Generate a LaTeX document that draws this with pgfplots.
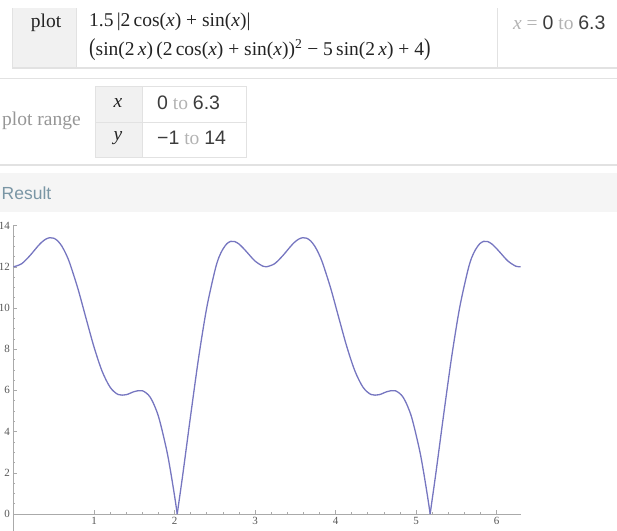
\documentclass[border=0pt]{standalone}
\usepackage{fontspec}
\setmainfont{Liberation Serif}
\newfontfamily\sansf{Liberation Sans}
\usepackage{graphicx}
\usepackage{pgfplots}
\pgfplotsset{compat=1.18}
\definecolor{curve}{RGB}{118,118,192}
\definecolor{cellgray}{RGB}{241,241,241}
\definecolor{linegray}{RGB}{226,226,226}
\definecolor{lightt}{RGB}{178,178,178}
\definecolor{midt}{RGB}{150,150,150}
\definecolor{darkt}{RGB}{35,35,35}
\definecolor{numt}{RGB}{60,60,60}
\definecolor{restxt}{RGB}{122,150,165}
\definecolor{band}{RGB}{245,245,245}
\definecolor{axisgray}{RGB}{170,170,170}
\definecolor{labgray}{RGB}{85,85,85}
\pgfplotsset{mycurve/.style={draw=curve, no markers, line width=1.3pt, smooth, line join=round}}
\newcommand{\fs}{\fontsize{19.5}{23}\selectfont}
\newcommand{\xx}{\textit{x}}
\newcommand{\tto}{{\color{lightt}\ to\ }}
\begin{document}
\begin{tikzpicture}
\useasboundingbox (0pt,0pt) rectangle (617pt,-530pt);
\begin{scope}[x=1pt,y=-1pt]
% first block
\fill[cellgray] (12,8) rectangle (76,68);
\draw[linegray] (12,8) -- (12,68);
\draw[linegray] (76,8) -- (76,68);
\draw[linegray] (497,8) -- (497,68);
\draw[linegray, line width=1.5pt] (12,68) -- (617,68);
\node[font=\fs, text=darkt, inner sep=0pt] at (46,23) {plot};
\node[anchor=west, font=\fs, text=darkt, inner sep=0pt] at (89,22)
  {1.5\,|2\,cos(\xx) + sin(\xx)|};
\node[anchor=west, font=\fs, text=darkt, inner sep=0pt] at (89,50)
  {\scalebox{1}[1.25]{(}sin(2\,\xx)\,(2\,cos(\xx) + sin(\xx))\textsuperscript{2} − 5\,sin(2\,\xx) + 4\scalebox{1}[1.25]{)}};
\node[anchor=west, font=\fs, inner sep=0pt] at (513,23)
  {{\color{lightt}\xx{} = }{\color{numt}\sansf 0}\tto{\color{numt}\sansf 6.3}};
% second block
\draw[linegray] (0,78) -- (617,78);
\node[anchor=west, font=\fs, text=midt, inner sep=0pt] at (2,121) {plot range};
\fill[cellgray] (95,86) rectangle (142,157);
\draw[linegray] (95,86) rectangle (246,157);
\draw[linegray] (95,122) -- (246,122);
\draw[linegray] (142,86) -- (142,157);
\node[font=\fs, text=darkt, inner sep=0pt] at (118,103) {\xx};
\node[font=\fs, text=darkt, inner sep=0pt] at (118,138) {\textit{y}};
\node[anchor=west, font=\fs, inner sep=0pt] at (157,103)
  {{\color{numt}\sansf 0}\tto{\color{numt}\sansf 6.3}};
\node[anchor=west, font=\fs, inner sep=0pt] at (157,138)
  {{\color{numt}\sansf −1}\tto{\color{numt}\sansf 14}};
\draw[linegray, line width=1.2pt] (0,165) -- (617,165);
% result band
\fill[band] (0,173) rectangle (617,212);
\node[anchor=west, font=\sansf\fontsize{17.5}{20}\selectfont, text=restxt, inner sep=0pt] at (1.5,193) {Result};
\end{scope}
\begin{axis}[
  at={(13.5pt,-534.6pt)}, anchor=south west,
  x=80.5pt, y=20.6pt,
  xmin=0, xmax=6.3, ymin=-1, ymax=14,
  axis x line=middle, axis y line=left,
  axis line style={draw=axisgray, line width=0.7pt, -},
  xtick={1,2,3,4,5,6}, ytick={0,2,4,6,8,10,12,14},
  minor x tick num=4, minor y tick num=3,
  tick align=inside,
  major tick length=4pt, minor tick length=2pt,
  every tick/.style={axisgray, line width=0.6pt},
  ticklabel style={font=\fontsize{11}{12}\selectfont, text=labgray},
  /pgf/number format/assume math mode=true,
]
\addplot[mycurve] coordinates {
(0,12) (0.1,12.145) (0.2,12.525) (0.3,12.989) (0.35,13.192) (0.4,13.341)
(0.45,13.413) (0.5,13.389) (0.55,13.256) (0.6,13.006) (0.65,12.639)
(0.7,12.162) (0.8,10.941) (0.9,9.515) (1.0,8.110) (1.1,6.939) (1.2,6.155)
(1.3,5.800) (1.4,5.792) (1.5,5.941) (1.6,5.986) (1.7,5.659) (1.8,4.748)
(1.9,3.149) (1.95,2.098) (2.0,0.899) (2.034,0)
};
\addplot[mycurve] coordinates {
(2.034,0) (2.05,0.444) (2.1,1.832)
(2.15,3.298) (2.2,4.770) (2.3,7.593) (2.4,10.005) (2.5,11.787) (2.55,12.444)
(2.6,12.849) (2.65,13.119) (2.7,13.236) (2.75,13.223) (2.8,13.110)
(2.85,12.923) (2.9,12.709) (3.0,12.281) (3.1,12.026)
(3.1416,12) (3.2416,12.145) (3.3416,12.525) (3.4416,12.989) (3.4916,13.192)
(3.5416,13.341) (3.5916,13.413) (3.6416,13.389) (3.6916,13.256)
(3.7416,13.006) (3.7916,12.639) (3.8416,12.162) (3.9416,10.941)
(4.0416,9.515) (4.1416,8.110) (4.2416,6.939) (4.3416,6.155) (4.4416,5.800)
(4.5416,5.792) (4.6416,5.941) (4.7416,5.986) (4.8416,5.659) (4.9416,4.748)
(5.0416,3.149) (5.0916,2.098) (5.1416,0.899) (5.1760,0)
};
\addplot[mycurve] coordinates {
(5.1760,0) (5.1916,0.444)
(5.2416,1.832) (5.2916,3.298) (5.3416,4.770) (5.4416,7.593) (5.5416,10.005)
(5.6416,11.787) (5.6916,12.444) (5.7416,12.849) (5.7916,13.119)
(5.8416,13.236) (5.8916,13.223) (5.9416,13.110) (5.9916,12.923)
(6.0416,12.709) (6.1416,12.281) (6.2416,12.026) (6.3,12.004)
};
\end{axis}
\end{tikzpicture}
\end{document}
